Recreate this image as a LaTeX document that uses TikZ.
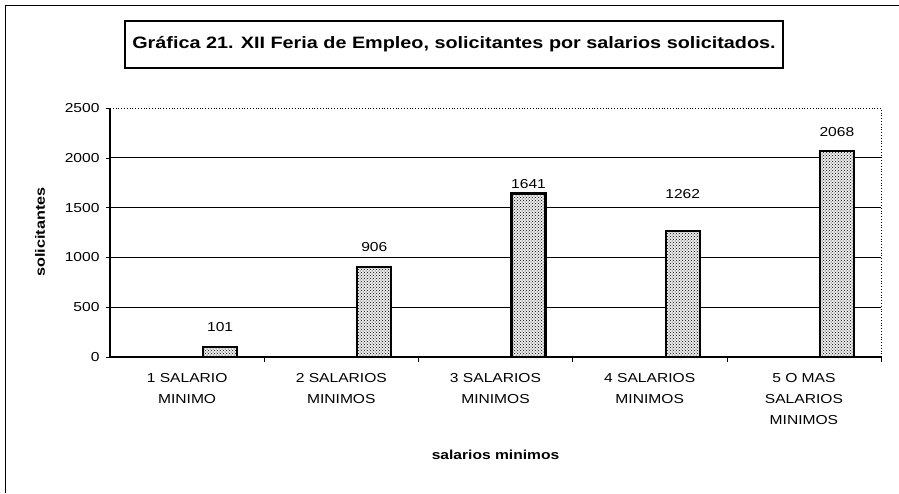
\documentclass[tikz,border=0pt]{standalone}
\usepackage{fontspec}
\setmainfont[FakeStretch=1.2]{Liberation Sans}
\usetikzlibrary{patterns}

\tikzset{
  gridline/.style={line width=0.8pt},
  barbox/.style={draw, line width=2.2pt, preaction={fill=gray!15}, pattern=crosshatch dots},
  ticklbl/.style={anchor=east, font=\fontsize{13}{15}\selectfont},
  catlbl/.style={anchor=north, align=center, font=\fontsize{13}{21}\selectfont},
  vallbl/.style={font=\fontsize{13}{15}\selectfont},
}

\begin{document}
\begin{tikzpicture}[x=1pt, y=1pt]
\useasboundingbox (0,0) rectangle (899,493);
\draw[line width=0.8pt] (5,0) -- (5,488) -- (899,488);
\node[draw, line width=2pt, minimum width=658pt, minimum height=47pt,
      font=\bfseries\fontsize{16.5}{19}\selectfont] (title) at (454,448.5)
  {Gráfica 21. XII Feria de Empleo, solicitantes por salarios solicitados.};

\begin{scope}[shift={(110,136)}, y=0.0996pt]
  % grid
  \foreach \v in {500,1000,...,2000}
    \draw[gridline] (0,\v) -- (771,\v);
  \draw[gridline, dotted] (0,2500) -- (771,2500) -- (771,0);
  \foreach \v in {0,500,...,2500} {
    \draw (-4,\v) -- (0,\v);
    \node[ticklbl] (t\v) at (-7,\v) {\v};
  }
  \foreach \i in {1,...,5}
    \draw (154.2*\i,0) -- (154.2*\i,-50);
  % bars
  \foreach \i/\v/\l in {1/101/301, 2/906/1104, 3/1641/1737, 4/1262/1637, 5/2068/2259} {
    \draw[barbox] (154.2*\i-61.1,0) rectangle ++(34,\v);
    \node[vallbl] (v\i) at (154.2*\i-44.1,\l) {\v};
  }
  \draw[line width=1.2pt] (0,2500) -- (0,0) -- (771,0);
  % labels
  \foreach \i/\t in {1/{1 SALARIO\\MINIMO}, 2/{2 SALARIOS\\MINIMOS}, 3/{3 SALARIOS\\MINIMOS},
                     4/{4 SALARIOS\\MINIMOS}, 5/{5 O MAS\\SALARIOS\\MINIMOS}}
    \node[catlbl] (c\i) at (154.2*\i-77.1,-130) {\t};
  \node[font=\bfseries\fontsize{13}{15}\selectfont] (xtitle) at (385.5,-984) {salarios minimos};
  \node[font=\bfseries\fontsize{13.5}{15}\selectfont, rotate=90] (ytitle) at (-70,1255) {solicitantes};
\end{scope}
\end{tikzpicture}
\end{document}
